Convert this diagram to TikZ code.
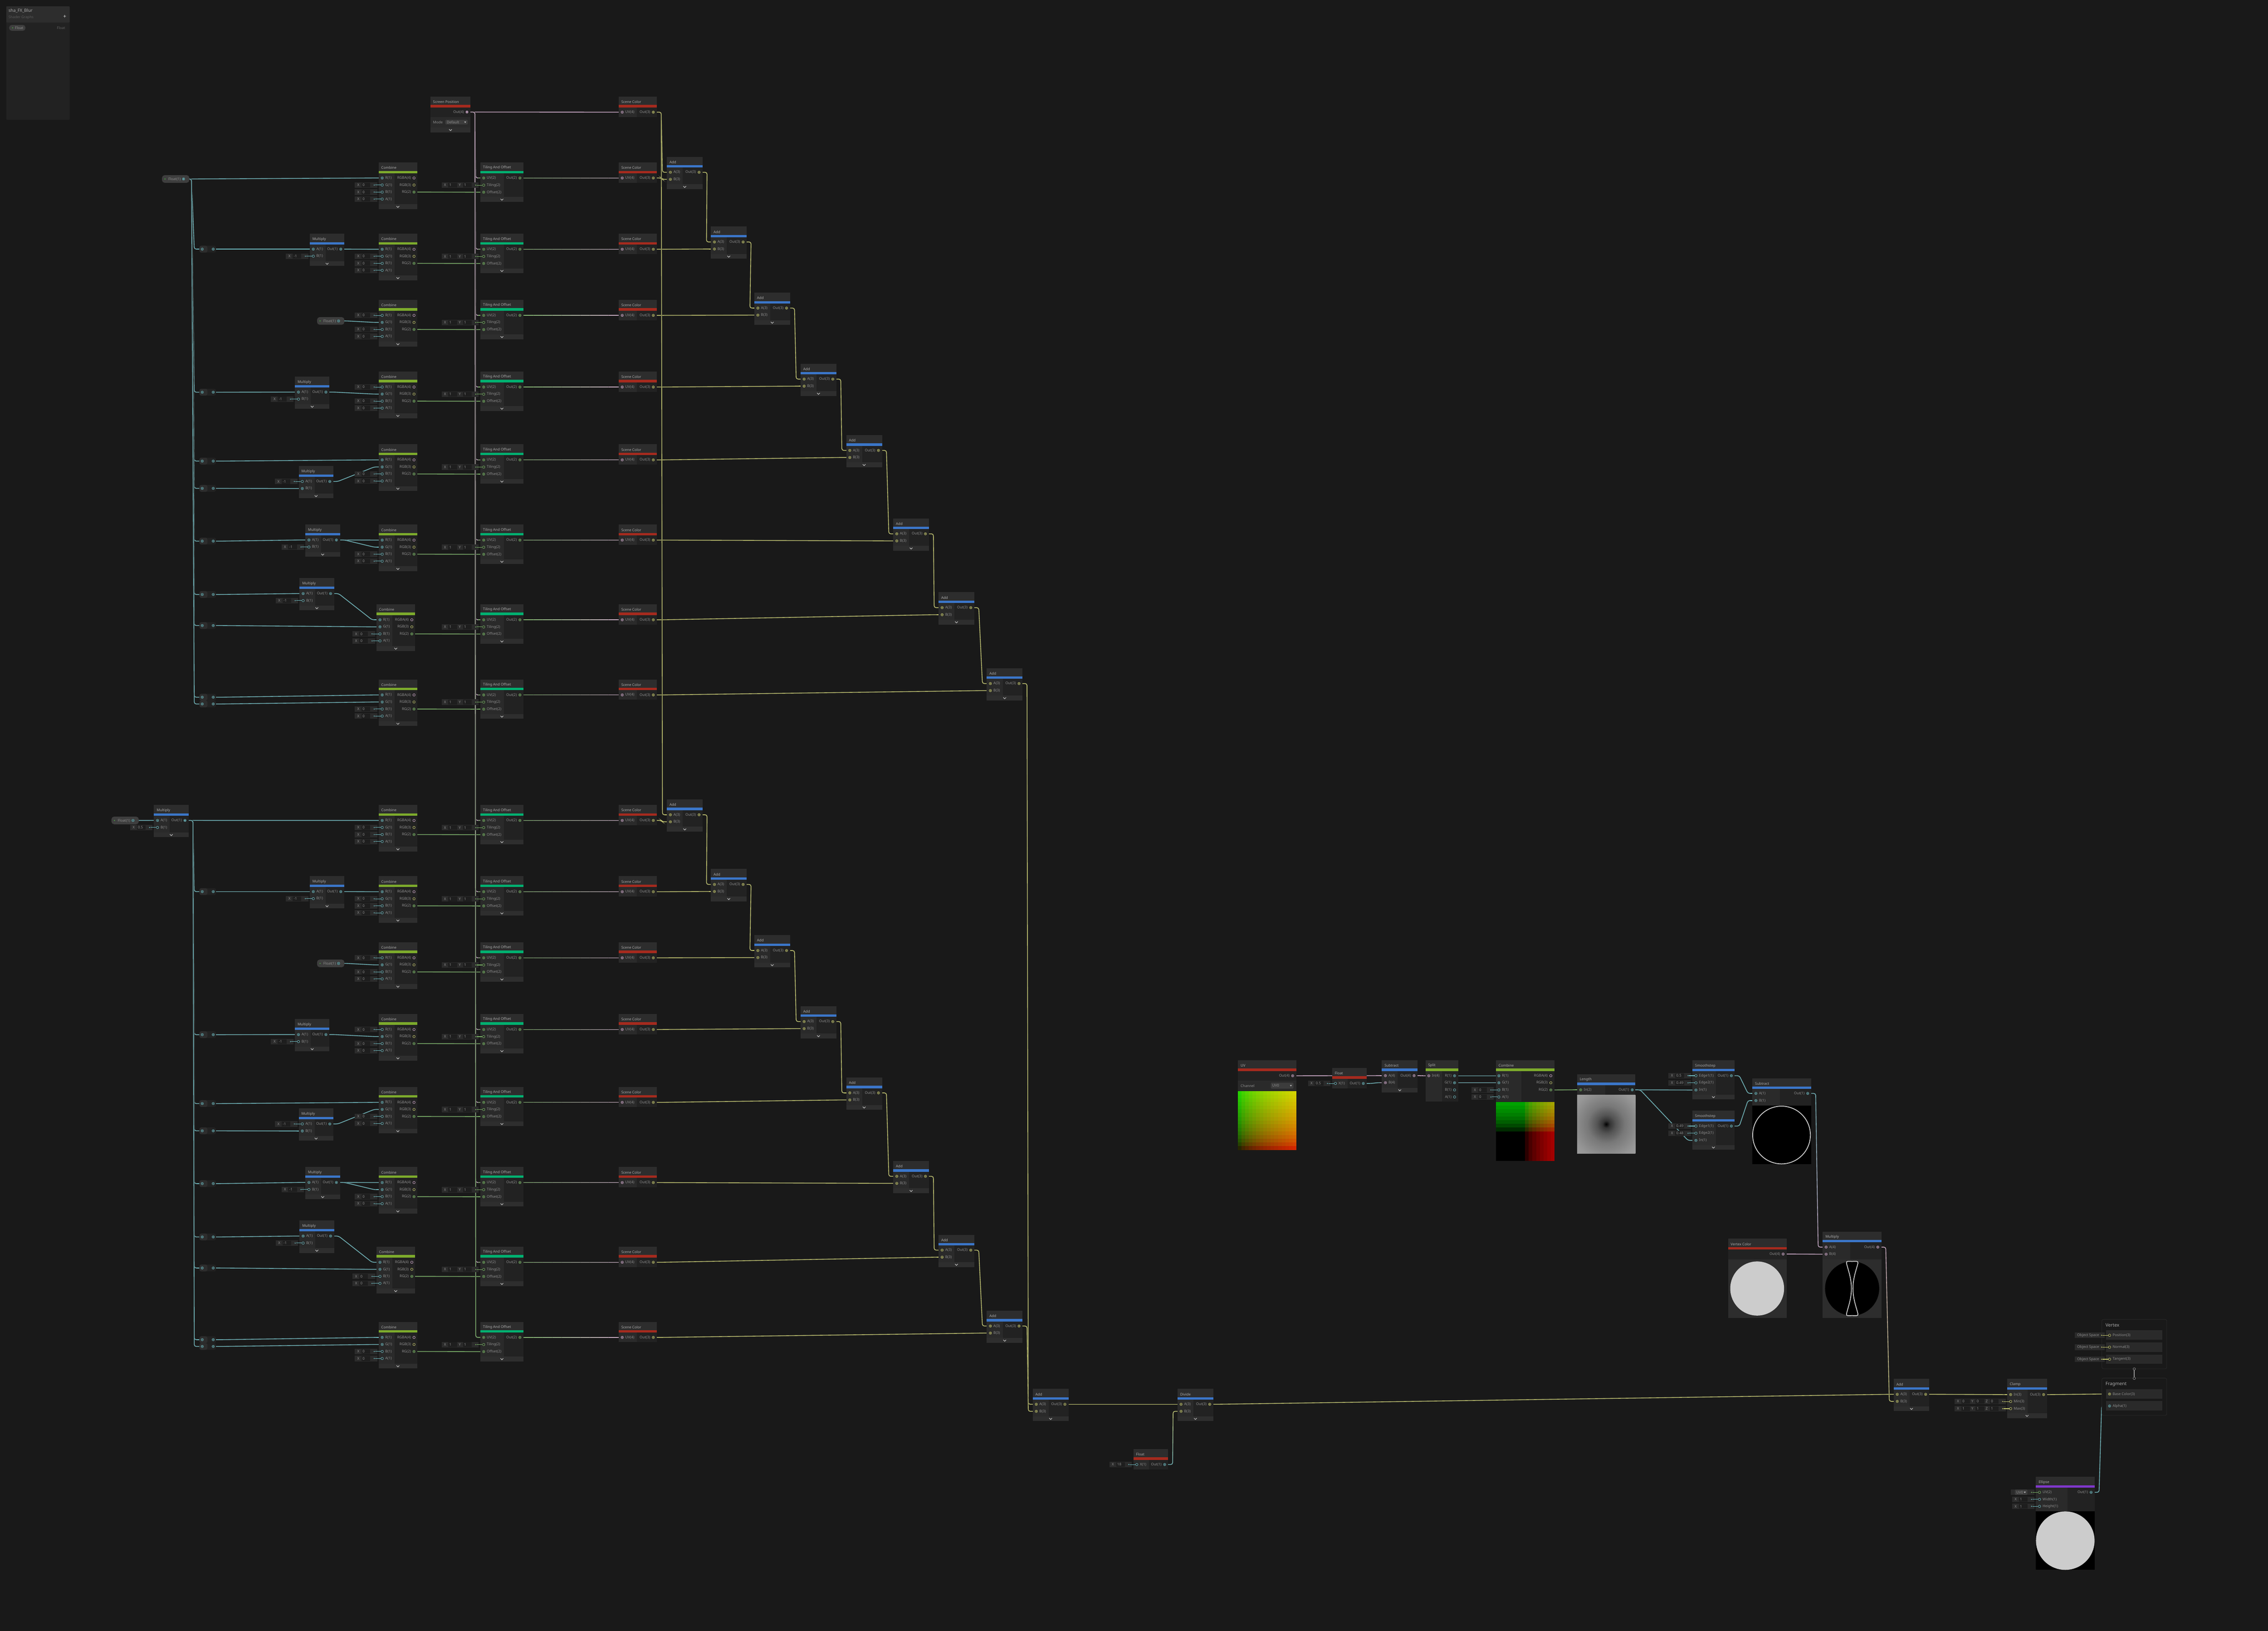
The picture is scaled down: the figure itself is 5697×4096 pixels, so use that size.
\documentclass[tikz,border=0pt]{standalone}
\usepackage{fontspec}
\setmainfont{Noto Sans}
\usetikzlibrary{calc}

\pgfdeclarelayer{under}
\pgfdeclarelayer{wires}
\pgfsetlayers{under,wires,main}

\definecolor{canvasbg}{HTML}{191919}
\definecolor{bodydark}{HTML}{222222}
\definecolor{bodylight}{HTML}{2A2A2A}
\definecolor{headfill}{HTML}{2D2D2D}
\definecolor{stripfill}{HTML}{2E2E2E}
\definecolor{fieldfill}{HTML}{2B2B2B}
\definecolor{valuefill}{HTML}{1E1E1E}
\definecolor{dropfill}{HTML}{3C3C3C}
\definecolor{pillfill}{HTML}{3E3E3E}
\definecolor{barblue}{HTML}{3B76C9}
\definecolor{barolive}{HTML}{7DAB2C}
\definecolor{barmint}{HTML}{00B070}
\definecolor{barred}{HTML}{A52A1E}
\definecolor{barviolet}{HTML}{8038CC}
\definecolor{wirei}{HTML}{6FBCC2}
\definecolor{wireii}{HTML}{7CB868}
\definecolor{wireiii}{HTML}{C8CB70}
\definecolor{wireiv}{HTML}{D3ADCE}
\definecolor{labelgray}{HTML}{8E8E8E}
\definecolor{titlegray}{HTML}{ABABAB}

\tikzset{
    txt/.style={inner sep=0pt, text=labelgray, font=\fontsize{2.25}{2.7}\selectfont},
    shtitle/.style={txt, anchor=west, text=titlegray},
    portlabel/.style={txt},
    ringport/.style={circle, draw, fill=bodydark, minimum size=1.5pt, inner sep=0pt, line width=.22pt},
    fielddot/.style={circle, fill=wirei, minimum size=.7pt, inner sep=0pt},
    link/.style={to path={-- ($(\tikztostart)+(20,0)$) -- ($(\tikztotarget)+(-20,0)$) -- (\tikztotarget)}},
    wirepath/.style={rounded corners=1.2pt, line width=.38pt, preaction={draw=black!80, line width=.7pt}},
    stubline/.style={line width=.3pt}
}

\newcommand{\shnode}[7]{%
    \coordinate (#1) at (#2,#3);
    \fill[bodydark] (#2,#3) rectangle ++(#4,#5);
    \fill[headfill] (#2,#3) rectangle ++(#4,21);
    \fill[#7] (#2,#3+21) rectangle ++(#4,6);
    \node[shtitle] at (#2+6,#3+13.5) {#6};
}
\newcommand{\leftcol}[4]{\fill[bodylight] (#1,#2+27) rectangle ++(#3,#4-27);}
\newcommand{\foldstrip}[4]{%
    \fill[stripfill] (#1,#2+#4-12) rectangle ++(#3,12);
    \draw[white!80!black, line width=.3pt] (#1+#3/2-3.5,#2+#4-7.5) -- ++(3.5,3.5) -- ++(3.5,-3.5);
}
\newcommand{\inp}[5]{%
    \node[ringport, draw=#4] (#1) at (#2,#3) {};
    \node[portlabel, anchor=west] at (#2+7,#3) {#5};
}
\newcommand{\outp}[5]{%
    \node[ringport, draw=#4] (#1) at (#2,#3) {};
    \node[portlabel, anchor=east] at (#2-7,#3) {#5};
}
\newcommand{\fieldbg}[3]{%
    \fill[fieldfill] ($(#1)+(#2,-7)$) rectangle ($(#1)+(-12.5,7)$);
    \node[fielddot, fill=#3] (#1-dot) at ($(#1)+(-20,0)$) {};
    \draw[stubline, draw=#3] (#1-dot) -- (#1);
}
\newcommand{\fieldpart}[4]{%
    \node[portlabel] at ($(#1)+(#2,0)$) {#3};
    \fill[valuefill] ($(#1)+(#2+8,-6)$) rectangle ($(#1)+(#2+30,6)$);
    \node[portlabel, anchor=west] at ($(#1)+(#2+10,0)$) {#4};
}
\newcommand{\field}[3][wirei]{\fieldbg{#2}{-69}{#1}\fieldpart{#2}{-60}{X}{#3}}
\newcommand{\wire}[4]{%
    \begin{pgfonlayer}{wires}
        \draw[wirepath, draw=#3] (#1.center) to[link] (#2.center);
        \draw[line width=.38pt, draw=#4] ($(#2)+(-14,0)$) -- (#2.center);
    \end{pgfonlayer}
    \fill[#3] (#1.center) circle (1.4);
    \fill[#4] (#2.center) circle (1.4);
}
\newcommand{\gwire}[5]{%
    \begin{pgfonlayer}{wires}
        \foreach \gi in {1,...,12} {
            \pgfmathsetmacro{\gfa}{(\gi-1)/12*1.1-0.05}
            \pgfmathsetmacro{\gfb}{\gi/12*1.1-0.05+0.004}
            \pgfmathtruncatemacro{\gpc}{100-(\gi-0.5)/12*100}
            \coordinate (gl) at ($(#1)!\gfa!(#2)$);
            \coordinate (gh) at ($(#1)!\gfb!(#2)$);
            \begin{scope}
                \if#5v\clip (gul |- gl) rectangle (gbr |- gh);\else\clip (gl |- gul) rectangle (gh |- gbr);\fi
                \draw[wirepath, draw=#3!\gpc!#4] (#1.center) to[link] (#2.center);
            \end{scope}
        }
    \end{pgfonlayer}
    \fill[#3] (#1.center) circle (1.4);
    \fill[#4] (#2.center) circle (1.4);
}
\newcommand{\binop}[7][90]{% name x y title colour n
    \shnode{#2}{#3}{#4}{#1}{81}{#5}{barblue}
    \leftcol{#3}{#4}{40}{69}
    \foldstrip{#3}{#4}{#1}{81}
    \inp{#2-a}{#3+9}{#4+38.7}{#6}{A(#7)}
    \inp{#2-b}{#3+9}{#4+56.4}{#6}{B(#7)}
    \outp{#2-out}{#3+#1-9}{#4+38.7}{#6}{Out(#7)}
}
\newcommand{\combine}[3]{%
    \shnode{#1}{#2}{#3}{97}{117}{Combine}{barolive}
    \leftcol{#2}{#3}{40}{105}
    \foldstrip{#2}{#3}{97}{117}
    \inp{#1-r}{#2+9}{#3+39}{wirei}{R(1)}
    \inp{#1-g}{#2+9}{#3+56.7}{wirei}{G(1)}
    \inp{#1-b}{#2+9}{#3+74.4}{wirei}{B(1)}
    \inp{#1-a}{#2+9}{#3+92}{wirei}{A(1)}
    \outp{#1-rgba}{#2+89}{#3+39}{wireiv}{RGBA(4)}
    \outp{#1-rgb}{#2+89}{#3+56.7}{wireiii}{RGB(3)}
    \outp{#1-rg}{#2+89}{#3+74.4}{wireii}{RG(2)}
}
\newcommand{\tiling}[3]{%
    \shnode{#1}{#2}{#3}{108.5}{99}{Tiling And Offset}{barmint}
    \leftcol{#2}{#3}{59}{87}
    \foldstrip{#2}{#3}{108.5}{99}
    \inp{#1-uv}{#2+8.5}{#3+39}{wireii}{UV(2)}
    \inp{#1-tile}{#2+8.5}{#3+57}{wireii}{Tiling(2)}
    \inp{#1-offset}{#2+8.5}{#3+74.7}{wireii}{Offset(2)}
    \outp{#1-out}{#2+99.5}{#3+39}{wireii}{Out(2)}
    \fieldbg{#1-tile}{-105}{wireii}
    \fieldpart{#1-tile}{-97}{X}{1}
    \fieldpart{#1-tile}{-60}{Y}{1}
}
\newcommand{\scenecolor}[3]{%
    \shnode{#1}{#2}{#3}{95.5}{51}{Scene Color}{barred}
    \leftcol{#2}{#3}{46}{51}
    \inp{#1-uv}{#2+9}{#3+39}{wireiv}{UV(4)}
    \outp{#1-out}{#2+87}{#3+39}{wireiii}{Out(3)}
}
\newcommand{\redirect}[2]{%
    \fill[bodydark, rounded corners=1.1pt] (501,#2-8.5) rectangle ++(41.5,17);
    \fill[headfill, rounded corners=1.1pt] (501,#2-8.5) rectangle ++(20,17);
    \node[ringport, draw=wirei] (#1-in) at (508,#2) {};
    \node[ringport, draw=wirei] (#1-out) at (535.6,#2) {};
}
\newcommand{\floatpill}[3]{%
    \fill[pillfill, rounded corners=1.6pt] (#2,#3) rectangle ++(68.5,19);
    \fill[wireii!60!green] (#2+7.5,#3+9.5) circle (1.2);
    \node[portlabel, anchor=west] at (#2+15,#3+10) {Float(1)};
    \node[ringport, draw=wirei] (#1-out) at (#2+54,#3+9.5) {};
}
\newcommand{\floatnode}[3]{%
    \shnode{#1}{#2}{#3}{87}{51}{Float}{barred}
    \leftcol{#2}{#3}{39}{51}
    \inp{#1-x}{#2+8.5}{#3+39}{wirei}{X(1)}
    \outp{#1-out}{#2+78.5}{#3+39}{wirei}{Out(1)}
}
\newcommand{\smoothstep}[5]{%
    \shnode{#1}{#2}{#3}{106}{98}{Smoothstep}{barblue}
    \leftcol{#2}{#3}{59}{86}
    \foldstrip{#2}{#3}{106}{98}
    \inp{#1-e1}{#2+9}{#3+38.5}{wirei}{Edge1(1)}
    \inp{#1-e2}{#2+9}{#3+56.5}{wirei}{Edge2(1)}
    \inp{#1-in}{#2+9}{#3+74.5}{wirei}{In(1)}
    \outp{#1-out}{#2+98}{#3+38.5}{wirei}{Out(1)}
    \field{#1-e1}{#4}
    \field{#1-e2}{#5}
}
\newcommand{\dropbox}[5]{%
    \fill[dropfill, rounded corners=.5pt] (#1,#2) rectangle ++(#3,#4);
    \node[portlabel, anchor=west] at (#1+3,#2+#4/2) {#5};
    \fill[white!75!black] (#1+#3-9,#2+#4/2-1.5) -- ++(5,0) -- ++(-2.5,3.5) -- cycle;
}
\newcommand{\spacefield}[1]{%
    \fill[fieldfill] ($(#1)+(-87,-7)$) rectangle ($(#1)+(-12.5,7)$);
    \node[portlabel, anchor=west] at ($(#1)+(-82,0)$) {Object Space};
    \node[fielddot, fill=wireiii] (#1-dot) at ($(#1)+(-20,0)$) {};
    \draw[stubline, draw=wireiii] (#1-dot) -- (#1);
}
\newcommand{\uvgrid}[6]{%
    \foreach \ui in {0,...,15} \foreach \vi in {0,...,15} {
        \pgfmathsetmacro{\ur}{#6*sqrt(min(1,max(0,(\ui+.5)/16-#5)*(1/(1-#5))))}
        \pgfmathsetmacro{\ug}{#6*sqrt(min(1,max(0,1-(\vi+.5)/16-#5)*(1/(1-#5))))}
        \definecolor{cellcolor}{rgb}{\ur,\ug,0}
        \fill[cellcolor] (#1+\ui*#3/16,#2+\vi*#4/16) rectangle ++(#3/16+.6,#4/16+.6);
    }
}
\definecolor{lenga}{HTML}{333333}
\definecolor{lengb}{HTML}{555555}
\definecolor{lengc}{HTML}{787878}
\definecolor{lengd}{HTML}{979797}
\definecolor{lenge}{HTML}{ABABAB}
\definecolor{lengf}{HTML}{BBBBBB}
\pgfdeclareradialshading{lengthshade}{\pgfpoint{0bp}{0bp}}{%
    color(0bp)=(black); color(3bp)=(lenga); color(8bp)=(lengb);
    color(16bp)=(lengc); color(30bp)=(lengd); color(50bp)=(lenge); color(71bp)=(lengf)}

\begin{document}
\begin{tikzpicture}[x=.25pt, y=-.25pt]
    \useasboundingbox (0,0) rectangle (5697,4096);
    \coordinate (gul) at (0,0);
    \coordinate (gbr) at (5697,4096);
    \begin{pgfonlayer}{under}
        \fill[canvasbg] (0,0) rectangle (5697,4096);
    \end{pgfonlayer}

    % blackboard
    \fill[bodydark, rounded corners=.6pt] (15.7,15.7) rectangle (175,301);
    \fill[headfill, rounded corners=.6pt] (15.7,15.7) rectangle (175,56.7);
    \node[shtitle, font=\fontsize{2.7}{3}\selectfont] (boardname) at (20.7,27) {sha\_FX\_Blur};
    \node[shtitle, text=black!65!white] (boardsub) at (20.7,43.5) {Shader Graphs};
    \node[shtitle, text=white!85!black, font=\fontsize{3.4}{4}\selectfont] (boardplus) at (158,42.5) {+};
    \fill[pillfill, rounded corners=1.6pt] (23,62.7) rectangle (64,77.3);
    \fill[wireii!60!green] (31.7,70) circle (1.2);
    \node[portlabel, anchor=west] (propname) at (37,70) {Float};
    \node[portlabel, anchor=east, text=black!62!white] (proptype) at (164.5,70) {Float};

    % sources
    \shnode{screen}{1081}{242.7}{101}{89.5}{Screen Position}{barred}
    \fill[bodylight] (1081,294) rectangle (1182,320);
    \foldstrip{1081}{242.7}{101}{89.5}
    \outp{screen-out}{1173}{281.4}{wireiv}{Out(4)}
    \node[shtitle, text=labelgray] (modelabel) at (1087,307) {Mode};
    \dropbox{1118.5}{301}{56.5}{11.5}{Default}

    \scenecolor{scene0}{1554}{242.7}
    \wire{screen-out}{scene0-uv}{wireiv}{wireiv}

    \floatpill{ufloat}{407}{440}
    \floatpill{lfloat}{280}{2051}
    \binop[87]{lm1}{386.7}{2021.7}{Multiply}{wirei}{1}
    \field{lm1-b}{0.5}
    \wire{lfloat-out}{lm1-a}{wirei}{wirei}

    % both stacks of rows
    \foreach \g/\off/\src in {u/0/ufloat-out, l/1613.5/lm1-out} {
        \foreach \rw/\rowtop/\cx/\flds/\ax/\ay in {
            1/408/951/{g,b,a}/1675/394,
            2/587/951/{g,b,a}/1785.6/569,
            3/753/951/{r,b,a}/1894.7/735,
            4/933/951/{r,b,a}/2010.9/913.4,
            5/1116/951/{b,a}/2125.6/1092.5,
            6/1317.4/951/{b,a}/2243.6/1302,
            7/1517.6/945.5/{b,a}/2357.5/1487.4,
            8/1706.3/951/{b,a}/2478.7/1678} {
            \combine{\g c\rw}{\cx}{\off+\rowtop}
            \foreach \prt in \flds {\field{\g c\rw-\prt}{0}}
            \tiling{\g t\rw}{1206.5}{\off+\rowtop}
            \scenecolor{\g s\rw}{1554}{\off+\rowtop}
            \binop{\g a\rw}{\ax}{\off+\ay}{Add}{wireiii}{3}
            \wire{\g c\rw-rg}{\g t\rw-offset}{wireii}{wireii}
            \wire{screen-out}{\g t\rw-uv}{wireiv}{wireii}
            \gwire{\g t\rw-out}{\g s\rw-uv}{wireii}{wireiv}{h}
            \wire{\g s\rw-out}{\g a\rw-b}{wireiii}{wireiii}
        }
        \foreach \pa/\pb in {1/2,2/3,3/4,4/5,5/6,6/7,7/8} {
            \wire{\g a\pa-out}{\g a\pb-a}{wireiii}{wireiii}
        }
        \wire{scene0-out}{\g a1-a}{wireiii}{wireiii}

        \wire{\src}{\g c1-r}{wirei}{wirei}

        \redirect{\g r2}{\off+625.7}
        \binop[87]{\g m2}{778}{\off+587}{Multiply}{wirei}{1}
        \field{\g m2-b}{-1}
        \wire{\src}{\g r2-in}{wirei}{wirei}
        \wire{\g r2-out}{\g m2-a}{wirei}{wirei}
        \wire{\g m2-out}{\g c2-r}{wirei}{wirei}

        \floatpill{\g f3}{796.5}{\off+796.5}
        \wire{\g f3-out}{\g c3-g}{wirei}{wirei}

        \redirect{\g r4}{\off+985}
        \binop[87]{\g m4}{740.7}{\off+946}{Multiply}{wirei}{1}
        \field{\g m4-b}{-1}
        \wire{\src}{\g r4-in}{wirei}{wirei}
        \wire{\g r4-out}{\g m4-a}{wirei}{wirei}
        \wire{\g m4-out}{\g c4-g}{wirei}{wirei}

        \redirect{\g r5}{\off+1158}
        \redirect{\g q5}{\off+1226.5}
        \binop[87]{\g m5}{750.4}{\off+1170.5}{Multiply}{wirei}{1}
        \field{\g m5-a}{-1}
        \wire{\src}{\g r5-in}{wirei}{wirei}
        \wire{\src}{\g q5-in}{wirei}{wirei}
        \wire{\g r5-out}{\g c5-r}{wirei}{wirei}
        \wire{\g q5-out}{\g m5-b}{wirei}{wirei}
        \wire{\g m5-out}{\g c5-g}{wirei}{wirei}

        \redirect{\g r6}{\off+1359}
        \binop[87]{\g m6}{767}{\off+1317.4}{Multiply}{wirei}{1}
        \field{\g m6-b}{-1}
        \wire{\src}{\g r6-in}{wirei}{wirei}
        \wire{\g r6-out}{\g m6-a}{wirei}{wirei}
        \wire{\g m6-out}{\g c6-r}{wirei}{wirei}
        \wire{\g m6-out}{\g c6-g}{wirei}{wirei}

        \redirect{\g r7}{\off+1493}
        \redirect{\g q7}{\off+1571}
        \binop[87]{\g m7}{752.4}{\off+1452}{Multiply}{wirei}{1}
        \field{\g m7-b}{-1}
        \wire{\src}{\g r7-in}{wirei}{wirei}
        \wire{\src}{\g q7-in}{wirei}{wirei}
        \wire{\g r7-out}{\g m7-a}{wirei}{wirei}
        \wire{\g m7-out}{\g c7-r}{wirei}{wirei}
        \wire{\g q7-out}{\g c7-g}{wirei}{wirei}

        \redirect{\g r8}{\off+1751}
        \redirect{\g q8}{\off+1768}
        \wire{\src}{\g r8-in}{wirei}{wirei}
        \wire{\src}{\g q8-in}{wirei}{wirei}
        \wire{\g r8-out}{\g c8-r}{wirei}{wirei}
        \wire{\g q8-out}{\g c8-g}{wirei}{wirei}
    }
    \gwire{screen-out}{lt8-uv}{wireiv}{wireii}{v}

    % average of the samples
    \binop{addall}{2594}{3488}{Add}{wireiii}{3}
    \binop{divide}{2957.7}{3488}{Divide}{wireiii}{3}
    \floatnode{float18}{2847}{3639}
    \field{float18-x}{18}
    \wire{ua8-out}{addall-a}{wireiii}{wireiii}
    \wire{la8-out}{addall-b}{wireiii}{wireiii}
    \wire{addall-out}{divide-a}{wireiii}{wireiii}
    \gwire{float18-out}{divide-b}{wirei}{wireiii}{v}

    % ring mask
    \shnode{uv}{3109.6}{2662.7}{146.4}{225}{UV}{barred}
    \fill[bodylight] (3109.6,2714) rectangle ++(146.4,25);
    \outp{uv-out}{3247}{2701.7}{wireiv}{Out(4)}
    \node[shtitle, text=labelgray] (channellabel) at (3115.6,2727) {Channel};
    \dropbox{3192}{2719}{57}{15}{UV0}
    \uvgrid{3109.6}{2740}{146.4}{147.7}{0}{.84}

    \floatnode{half}{3346}{2682}
    \field{half-x}{0.5}
    \binop{centre}{3471}{2662.7}{Subtract}{wireiv}{4}

    \shnode{split}{3580.7}{2662.7}{82}{103.6}{Split}{barolive}
    \leftcol{3580.7}{2662.7}{41}{103.6}
    \inp{split-in}{3589}{2701.7}{wireiv}{In(4)}
    \outp{split-r}{3653.7}{2701.7}{wirei}{R(1)}
    \outp{split-g}{3653.7}{2719.3}{wirei}{G(1)}
    \outp{split-b}{3653.7}{2737.3}{wirei}{B(1)}
    \outp{split-a}{3653.7}{2755}{wirei}{A(1)}

    \shnode{join}{3757.7}{2662.7}{146.7}{252.3}{Combine}{barolive}
    \leftcol{3757.7}{2662.7}{64}{104}
    \inp{join-r}{3765}{2701.7}{wirei}{R(1)}
    \inp{join-g}{3765}{2719.3}{wirei}{G(1)}
    \inp{join-b}{3765}{2737.3}{wirei}{B(1)}
    \inp{join-a}{3765}{2755}{wirei}{A(1)}
    \outp{join-rgba}{3895.5}{2701.7}{wireiv}{RGBA(4)}
    \outp{join-rgb}{3895.5}{2719.3}{wireiii}{RGB(3)}
    \outp{join-rg}{3895.5}{2737.3}{wireii}{RG(2)}
    \field{join-b}{0}
    \field{join-a}{0}
    \uvgrid{3757.7}{2767.3}{146.7}{147.7}{.5}{.66}

    \shnode{length}{3961.5}{2698}{146.5}{198.7}{Length}{barblue}
    \leftcol{3961.5}{2698}{70.5}{51}
    \inp{length-in}{3970.5}{2737}{wireii}{In(2)}
    \outp{length-out}{4100}{2737}{wirei}{Out(1)}
    \begin{scope}
        \clip (3961.5,2750) rectangle (4108,2896.7);
        \shade[shading=lengthshade] (3961.5,2750) rectangle (4108,2896.7);
    \end{scope}

    \smoothstep{soft1}{4251}{2663}{0.5}{0.49}
    \smoothstep{soft2}{4251}{2789.5}{0.49}{0.48}

    \shnode{ring}{4401.7}{2708}{147.3}{216}{Subtract}{barblue}
    \leftcol{4401.7}{2708}{69.3}{67.7}
    \inp{ring-a}{4410.6}{2746}{wirei}{A(1)}
    \inp{ring-b}{4410.6}{2764}{wirei}{B(1)}
    \outp{ring-out}{4540.7}{2746}{wirei}{Out(1)}
    \fill[black] (4401.7,2777) rectangle (4549,2924);
    \draw[white!82!black, line width=.5pt] (4475,2850.5) ellipse (72.5 and 72.5);

    \shnode{vcolor}{4340.5}{3111}{147.3}{198.6}{Vertex Color}{barred}
    \fill[headfill] (4340.5,3163) rectangle (4487.8,3309.6);
    \outp{vcolor-out}{4479}{3149.4}{wireiv}{Out(4)}
    \fill[white!80!black] (4413.8,3236) ellipse (67.6 and 68);

    \shnode{tint}{4578.4}{3093}{147.3}{216.6}{Multiply}{barblue}
    \leftcol{4578.4}{3093}{69.6}{70}
    \fill[headfill] (4578.4,3163) rectangle (4725.7,3309.6);
    \inp{tint-a}{4587}{3132}{wireiv}{A(4)}
    \inp{tint-b}{4587}{3149.8}{wireiv}{B(4)}
    \outp{tint-out}{4716.8}{3132}{wireiv}{Out(4)}
    \fill[black] (4652.3,3236) ellipse (68 and 68);
    \draw[white!80!black, line width=.5pt] (4638,3300) .. controls (4643,3280) and (4650.5,3262) .. (4650.5,3236) .. controls (4650.5,3210) and (4643,3192) .. (4638,3172) .. controls (4637,3166) and (4644,3168) .. (4652,3168) .. controls (4660,3168) and (4668,3166) .. (4667,3172) .. controls (4662,3192) and (4654.5,3210) .. (4654.5,3236) .. controls (4654.5,3262) and (4662,3280) .. (4667,3300) .. controls (4668,3306) and (4660,3304) .. (4652,3304) .. controls (4644,3304) and (4637,3306) .. (4638,3300);

    \binop[89.3]{addring}{4756.7}{3463}{Add}{wireiii}{3}

    \shnode{clamp}{5041.7}{3463}{100}{98.4}{Clamp}{barblue}
    \leftcol{5041.7}{3463}{51}{87.4}
    \foldstrip{5041.7}{3463}{100}{98.4}
    \inp{clamp-in}{5050.5}{3502.4}{wireiii}{In(3)}
    \inp{clamp-min}{5050.5}{3519.7}{wireiii}{Min(3)}
    \inp{clamp-max}{5050.5}{3537.8}{wireiii}{Max(3)}
    \outp{clamp-out}{5133.3}{3502.4}{wireiii}{Out(3)}
    \foreach \prt/\val in {min/0,max/1} {
        \fieldbg{clamp-\prt}{-141}{wireiii}
        \fieldpart{clamp-\prt}{-132}{X}{\val}
        \fieldpart{clamp-\prt}{-96}{Y}{\val}
        \fieldpart{clamp-\prt}{-60}{Z}{\val}
    }

    % master stack
    \fill[canvasbg, draw=bodylight, line width=.25pt, rounded corners=1pt] (5279.7,3313.5) rectangle (5442.6,3437.6);
    \fill[canvasbg, draw=bodylight, line width=.25pt, rounded corners=1pt] (5279.7,3461) rectangle (5442.6,3554.6);
    \node[shtitle, font=\fontsize{2.9}{3.4}\selectfont] (vertextitle) at (5288,3328.6) {Vertex};
    \node[shtitle, font=\fontsize{2.9}{3.4}\selectfont] (fragmenttitle) at (5288,3476.3) {Fragment};
    \foreach \slottop in {3341,3371.5,3402,3489,3519} {
        \fill[bodylight] (5290,\slottop) rectangle ++(141.5,23.4);
    }
    \inp{position}{5299}{3353.5}{wireiii}{Position(3)}
    \inp{normal}{5299}{3383.3}{wireiii}{Normal(3)}
    \inp{tangent}{5299}{3413.6}{wireiii}{Tangent(3)}
    \inp{basecolor}{5299}{3501}{wireiii}{Base Color(3)}
    \inp{alpha}{5299}{3531}{wirei}{Alpha(1)}
    \spacefield{position}
    \spacefield{normal}
    \spacefield{tangent}
    \node[ringport, draw=white!60!black, fill=canvasbg] (vertexlink) at (5361,3438) {};
    \node[ringport, draw=white!60!black, fill=canvasbg] (fragmentlink) at (5361,3461.6) {};
    \draw[white!60!black, line width=.4pt] (vertexlink) -- (fragmentlink);

    \shnode{ellipse}{5114}{3709}{147.3}{233.7}{Ellipse}{barviolet}
    \leftcol{5114}{3709}{79.5}{86.8}
    \inp{ellipse-uv}{5123}{3747.8}{wireii}{UV(2)}
    \inp{ellipse-w}{5123}{3765.5}{wirei}{Width(1)}
    \inp{ellipse-h}{5123}{3783}{wirei}{Height(1)}
    \outp{ellipse-out}{5252.6}{3747.8}{wirei}{Out(1)}
    \fieldbg{ellipse-uv}{-72}{wireii}
    \dropbox{5061}{3741}{31.6}{13.5}{UV0}
    \field{ellipse-w}{1}
    \field{ellipse-h}{1}
    \fill[black] (5114,3795.8) rectangle (5261.3,3942.7);
    \fill[white!80!black] (5187.7,3869.2) ellipse (73.6 and 73.4);

    \wire{uv-out}{centre-a}{wireiv}{wireiv}
    \wire{half-out}{centre-b}{wirei}{wireiv}
    \wire{centre-out}{split-in}{wireiv}{wireiv}
    \wire{split-r}{join-r}{wirei}{wirei}
    \wire{split-g}{join-g}{wirei}{wirei}
    \wire{join-rg}{length-in}{wireii}{wireii}
    \wire{length-out}{soft1-in}{wirei}{wirei}
    \wire{length-out}{soft2-in}{wirei}{wirei}
    \wire{soft1-out}{ring-a}{wirei}{wirei}
    \wire{soft2-out}{ring-b}{wirei}{wirei}
    \gwire{ring-out}{tint-a}{wirei}{wireiv}{v}
    \wire{vcolor-out}{tint-b}{wireiv}{wireiv}
    \gwire{tint-out}{addring-b}{wireiv}{wireiii}{v}
    \wire{divide-out}{addring-a}{wireiii}{wireiii}
    \wire{addring-out}{clamp-in}{wireiii}{wireiii}
    \wire{clamp-out}{basecolor}{wireiii}{wireiii}
    \wire{ellipse-out}{alpha}{wirei}{wirei}
\end{tikzpicture}
\end{document}
